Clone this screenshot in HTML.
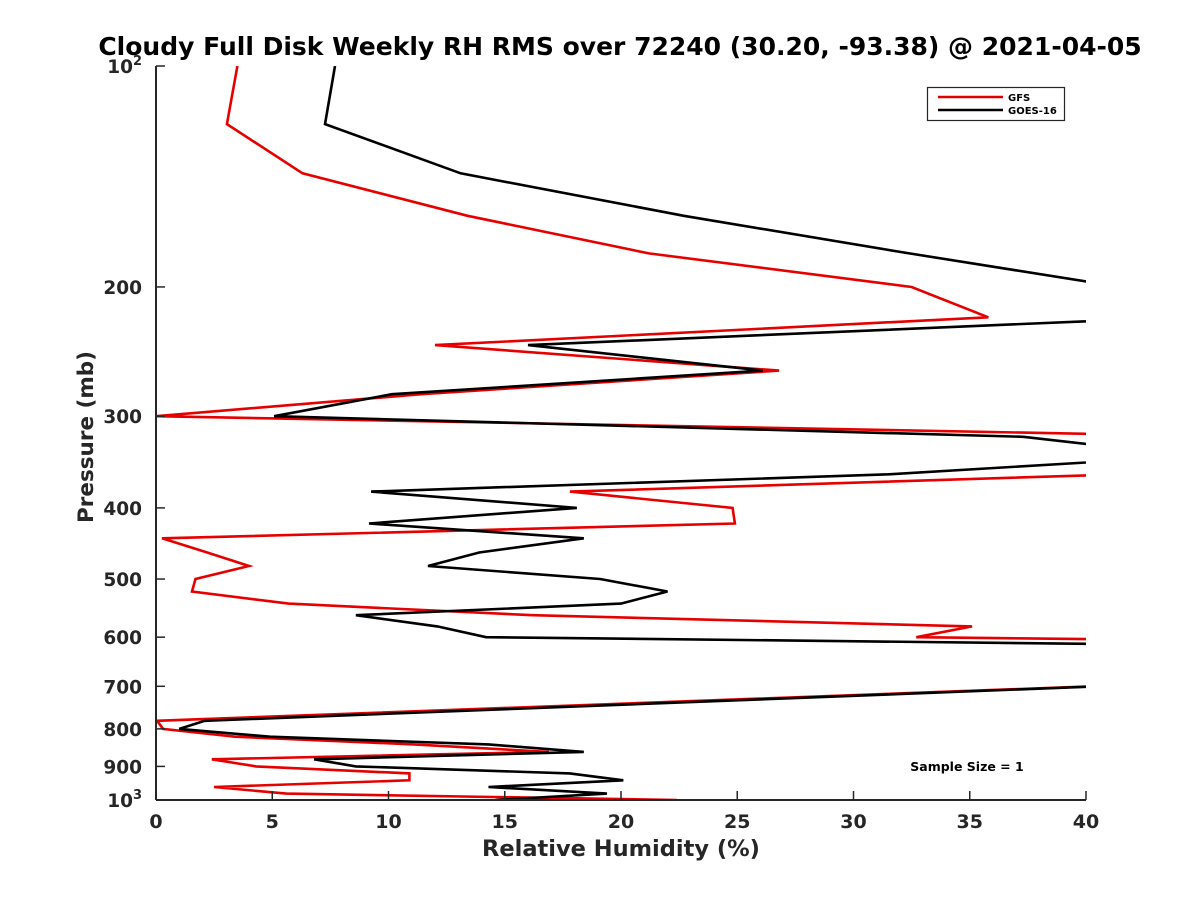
<!DOCTYPE html>
<html><head><meta charset="utf-8"><style>
body{margin:0;background:#fff}
svg{display:block;font-family:"DejaVu Sans","Liberation Sans",sans-serif;font-weight:bold}
</style></head><body>
<svg id="chart" width="1200" height="900" viewBox="0 0 1200 900">
<rect width="1200" height="900" fill="#fff"/>
<text x="620" y="55" font-size="25" text-anchor="middle" fill="#000">Cloudy Full Disk Weekly RH RMS over 72240 (30.20, -93.38) @ 2021-04-05</text>
<defs><clipPath id="plotclip"><rect x="156" y="66" width="930" height="734"/></clipPath></defs>
<g id="series" clip-path="url(#plotclip)"></g>
<g id="axes"></g>
<text x="621" y="856" font-size="22.5" text-anchor="middle" fill="#262626">Relative Humidity (%)</text>
<text transform="translate(93,437) rotate(-90)" font-size="21.5" text-anchor="middle" fill="#262626">Pressure (mb)</text>
<g>
<rect x="927.5" y="87.5" width="137" height="33" fill="#fff" stroke="#262626" stroke-width="1.2"/>
<line x1="938" y1="97" x2="1003" y2="97" stroke="#e00000" stroke-width="2.5"/>
<text x="1008" y="101" font-size="10" fill="#000">GFS</text>
<line x1="938" y1="110" x2="1003" y2="110" stroke="#000" stroke-width="2.5"/>
<text x="1008" y="114" font-size="10" fill="#000">GOES-16</text>
</g>
<text x="967" y="771" font-size="12.5" text-anchor="middle" fill="#000">Sample Size = 1</text>
</svg>
<script>
const pressureLevels=[100,120,140,160,180,200,220,240,260,280,300,320,340,360,380,400,420,440,460,480,500,520,540,560,580,600,620,700,780,800,820,840,860,880,900,920,940,960,980,1000];
const gfsValues=[3.5,3.05,6.3,13.4,21.2,32.5,35.8,12.0,26.8,11.4,0,46.8,50,41.5,17.8,24.8,24.9,0.26,2.2,4.0,1.7,1.55,5.7,16.2,35.1,32.7,73,40.3,0.05,0.3,3.4,11.1,16.9,2.4,4.3,10.9,10.9,2.5,5.6,22.4];
const goesValues=[7.7,7.27,13.1,22.7,32.4,41.5,44,16.0,26.1,10.15,5.08,37.3,44.6,31.5,9.25,18.1,9.16,18.4,13.9,11.7,19.1,22.0,20.0,8.6,12.1,14.2,54.9,40.6,2.1,1.0,4.9,14.3,18.4,6.8,8.6,17.8,20.1,14.3,19.4,14.6];
const xTicks=[0,5,10,15,20,25,30,35,40];
const yTicks=[100,200,300,400,500,600,700,800,900,1000];
const yTickLabels=["10²","200","300","400","500","600","700","800","900","10³"];
const X0=156,X1=1086,Y0=66,Y1=800;
function xs(v){return X0+(v/40)*(X1-X0);}
function ys(p){return Y0+Math.log10(p/100)*(Y1-Y0);}
const NS="http://www.w3.org/2000/svg";
const sg=document.getElementById('series');
function drawLine(vals,color,name){
  const pl=document.createElementNS(NS,'polyline');
  pl.setAttribute('points',vals.map((v,i)=>xs(v).toFixed(1)+','+ys(pressureLevels[i]).toFixed(1)).join(' '));
  pl.setAttribute('fill','none');pl.setAttribute('stroke',color);pl.setAttribute('stroke-width','2.6');pl.setAttribute('stroke-linejoin','miter');
  
  
  sg.appendChild(pl);
}
drawLine(gfsValues,'#e60000','gfs-line');
drawLine(goesValues,'#000000','goes-line');
const ax=document.getElementById('axes');
function el(tag,attrs){const e=document.createElementNS(NS,tag);for(const k in attrs)e.setAttribute(k,attrs[k]);ax.appendChild(e);return e;}
const xl=el('line',{x1:X0,y1:Y1,x2:X1,y2:Y1,stroke:'#262626','stroke-width':2});


const yl=el('line',{x1:X0,y1:Y0,x2:X0,y2:Y1,stroke:'#262626','stroke-width':2});


xTicks.forEach(t=>{
  const x=xs(t);
  const tk=el('line',{x1:x,y1:Y1,x2:x,y2:Y1-9,stroke:'#262626','stroke-width':1.5});
  
  
  const tx=el('text',{x:x,y:Y1+28,'font-size':19,'text-anchor':'middle',fill:'#262626'});
  tx.textContent=t;
  
  
});
yTicks.forEach((p,i)=>{
  const y=ys(p);
  const tk=el('line',{x1:X0,y1:y,x2:X0+9,y2:y,stroke:'#262626','stroke-width':1.5});
  
  
  const lab=yTickLabels[i];
  const tx=el('text',{x:X0-14,y:y+7,'font-size':18.5,'text-anchor':'end',fill:'#262626'});
  if(lab.length===3&&(lab[2]==='²'||lab[2]==='³')){
    const base=document.createElementNS(NS,'tspan');base.textContent='10';tx.appendChild(base);
    const sup=document.createElementNS(NS,'tspan');sup.textContent=lab[2]==='²'?'2':'3';sup.setAttribute('font-size','13');sup.setAttribute('dy','-8');tx.appendChild(sup);
  } else tx.textContent=lab;
  
  
});
</script>
</body></html>
